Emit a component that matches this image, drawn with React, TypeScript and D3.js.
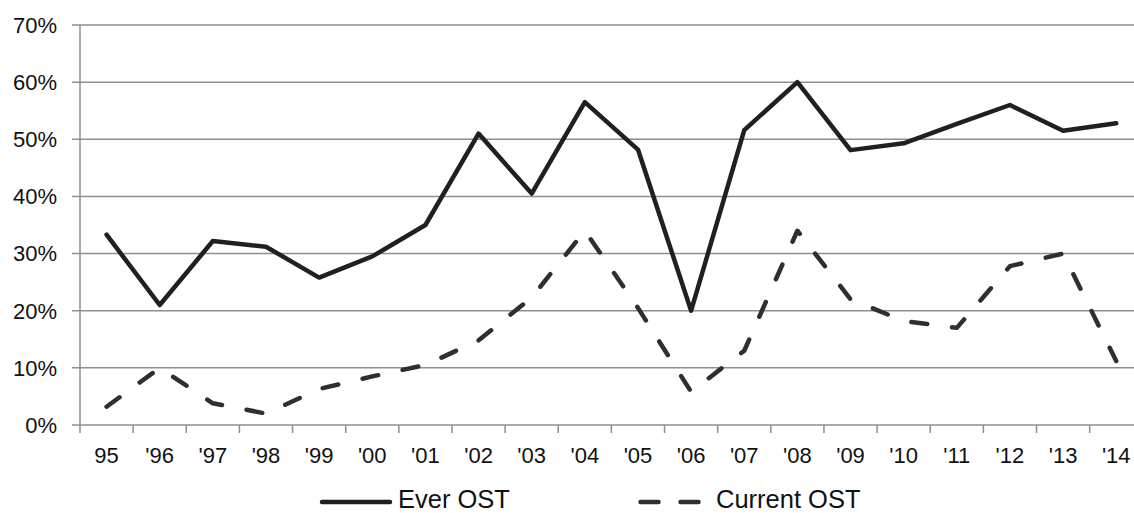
import React from "react";
import * as d3 from "d3";

const categories = ["95", "'96", "'97", "'98", "'99", "'00", "'01", "'02", "'03", "'04", "'05", "'06", "'07", "'08", "'09", "'10", "'11", "'12", "'13", "'14"];
const everOST = [33.3, 21, 32.2, 31.2, 25.8, 29.5, 35, 51, 40.5, 56.5, 48.2, 20, 51.6, 60, 48.1, 49.3, 52.7, 56, 51.5, 52.8];
const currentOST = [3.2, 10, 3.8, 2, 6.3, 8.5, 10.5, 14.8, 22.3, 34, 20.5, 5.8, 13, 34, 22, 18.2, 17, 27.8, 30, 11.2];
const yTicks = [0, 10, 20, 30, 40, 50, 60, 70];
const seriesNames = ["Ever OST", "Current OST"];

const W = 1134;
const H = 513;
const FONT = "'Liberation Sans', Arial, sans-serif";

export default function App() {
  const x = d3.scaleBand<string>().domain(categories).range([80, 80 + 20 * 53.14]).paddingInner(0).paddingOuter(0);
  const y = d3.scaleLinear().domain([0, 70]).range([425, 25]);
  const cx = (c: string) => (x(c) as number) + x.bandwidth() / 2;

  const line = d3
    .line<number>()
    .x((_, i) => cx(categories[i]))
    .y((d) => y(d));

  const xRight = 80 + 20 * 53.14;
  const axisColor = "#8e8e8e";

  return (
    <svg width={W} height={H} style={{ position: "absolute", left: 0, top: 0, background: "#fff" }}>
      {yTicks.map((t) => (
        <g key={t}>
          <line x1={72} x2={xRight} y1={y(t)} y2={y(t)} stroke={axisColor} strokeWidth={1.5} />
          <text x={57} y={y(t)} dy="0.36em" textAnchor="end" fontFamily={FONT} fontSize={22} fill="#111">
            {t}%
          </text>
        </g>
      ))}
      <line x1={80} x2={80} y1={y(70)} y2={y(0)} stroke={axisColor} strokeWidth={1.5} />
      {categories.map((c) => (
        <line key={"t" + c} x1={x(c) as number} x2={x(c) as number} y1={425} y2={433} stroke={axisColor} strokeWidth={1.5} />
      ))}
      <line x1={xRight} x2={xRight} y1={425} y2={433} stroke={axisColor} strokeWidth={1.5} />
      {categories.map((c) => (
        <text key={"l" + c} x={cx(c)} y={463} textAnchor="middle" fontFamily={FONT} fontSize={22} fill="#111">
          {c}
        </text>
      ))}
      <path d={line(currentOST) || ""} fill="none" stroke="#2f2f2f" strokeWidth={4.5} strokeDasharray="16,25" strokeLinecap="round" strokeLinejoin="round" />
      <path d={line(everOST) || ""} fill="none" stroke="#231f20" strokeWidth={4.5} strokeLinecap="round" strokeLinejoin="round" />
      <line x1={322} x2={390} y1={502} y2={502} stroke="#231f20" strokeWidth={4.5} strokeLinecap="round" />
      <text x={398} y={507.5} fontFamily={FONT} fontSize={25.5} fill="#111">
        {seriesNames[0]}
      </text>
      <line x1={640.5} x2={702} y1={502} y2={502} stroke="#2f2f2f" strokeWidth={4.5} strokeDasharray="18,22" strokeLinecap="round" />
      <text x={716} y={507.5} fontFamily={FONT} fontSize={25.5} fill="#111">
        {seriesNames[1]}
      </text>
    </svg>
  );
}
